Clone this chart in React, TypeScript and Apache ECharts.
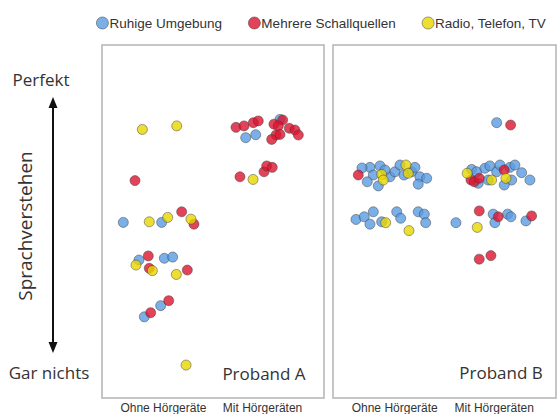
import React, { useEffect, useRef } from "react";
import * as echarts from "echarts";

// Category ticks (x = 0 "Ohne", x = 1 "Mit"), jittered x positions
const xTickValues = [0, 1];
const xTickLabels = ["Ohne Hörgeräte", "Mit Hörgeräten"];
const seriesNames = ["Ruhige Umgebung", "Mehrere Schallquellen", "Radio, Telefon, TV"];
const panelLabels = ["Proband A", "Proband B"];

// Proband A: [x (jittered group), Sprachverstehen 0 = gar nichts .. 100 = perfekt]
const probandA_ruhig = [
  [-0.405, 49.7], [-0.018, 49.7], [-0.247, 36.9], [0.009, 37.5], [0.093, 37.9],
  [-0.028, 21.4], [-0.193, 17.6], [0.83, 78.5], [0.931, 79.5], [1.176, 84.7],
];
const probandA_mehrere = [
  [-0.287, 63.9], [0.184, 53.3], [0.308, 49.1], [-0.153, 38.3], [-0.143, 34.1],
  [0.241, 33.5], [0.053, 23.1], [-0.129, 19.0],
  [0.732, 82.0], [0.813, 82.5], [0.907, 83.6], [0.957, 84.2], [1.115, 83.1],
  [1.203, 84.5], [1.159, 82.5], [1.27, 81.7], [1.327, 81.1], [1.361, 79.4],
  [1.136, 79.4], [1.092, 77.9], [1.176, 79.6],
  [0.772, 65.2], [1.015, 66.9], [1.042, 68.9], [1.098, 68.4],
];
const probandA_radio = [
  [-0.213, 81.3], [0.134, 82.5], [-0.143, 49.9], [0.043, 51.4], [0.278, 50.8],
  [-0.277, 35.2], [-0.112, 33.3], [0.13, 32.0], [0.228, 1.2], [0.904, 64.3],
];

// Proband B
const probandB_ruhig = [
  [-0.249, 68.4], [-0.148, 68.9], [-0.215, 65.8], [-0.276, 63.5], [-0.165, 62.1],
  [-0.048, 65.2], [0.002, 66.9], [0.053, 69.2], [0.17, 66.9], [0.203, 68.4],
  [0.253, 65.2], [0.236, 62.7], [0.321, 64.7], [-0.098, 67.5], [-0.329, 68.2],
  [0.093, 65.8],
  [-0.389, 50.7], [-0.306, 51.6], [-0.215, 53.3], [-0.249, 49.1], [-0.131, 49.9],
  [0.02, 53.3], [0.06, 51.1], [0.236, 53.3], [0.297, 52.5], [0.311, 49.6],
  [1.024, 83.6],
  [0.773, 67.7], [0.823, 66.9], [0.906, 68.1], [0.956, 68.9], [1.024, 66.9],
  [1.057, 69.2], [1.157, 68.4], [1.207, 69.2], [1.275, 66.6], [1.358, 64.1],
  [1.174, 64.1], [1.1, 62.4], [0.839, 63.0], [0.939, 64.1],
  [0.615, 49.6], [0.989, 52.5], [1.006, 49.6], [1.134, 52.5], [1.167, 51.6],
  [1.318, 50.2],
];
const probandB_mehrere = [
  [-0.366, 65.8],
  [1.164, 82.8], [0.766, 64.1], [0.799, 63.5], [0.849, 64.7], [1.1, 67.5],
  [0.849, 53.6], [1.04, 51.6], [1.375, 51.9], [0.849, 37.2], [0.966, 38.4],
];
const probandB_radio = [
  [-0.131, 66.0], [-0.115, 64.1], [0.113, 69.2], [0.136, 66.4],
  [-0.091, 49.6], [0.143, 46.9],
  [0.728, 66.4], [0.973, 64.1], [1.117, 64.7], [0.829, 48.0],
];

const colors = ["#5a9be2", "#dc1430", "#e8d600"];

export default function App() {
  const ref = useRef<HTMLDivElement>(null);
  useEffect(() => {
    if (!ref.current) return;
    const chart = echarts.init(ref.current, null, { renderer: "svg" });
    const mk = (name: string, data: number[][], idx: number, ci: number) => ({
      name,
      type: "scatter",
      xAxisIndex: idx,
      yAxisIndex: idx,
      data,
      symbol: "circle",
      symbolSize: 10,
      itemStyle: {
        color: colors[ci],
        borderColor: "rgba(55,55,55,0.75)",
        borderWidth: 0.8,
      },
    });
    const xAxisBase = (idx: number) => ({
      type: "value",
      gridIndex: idx,
      min: -0.62,
      max: 1.62,
      axisLine: { show: false },
      axisTick: { show: false },
      splitLine: { show: false },
      axisLabel: {
        customValues: xTickValues,
        formatter: (v: number) => xTickLabels[Math.round(v)] ?? "",
        fontFamily: "Liberation Sans, Arial, sans-serif",
        fontSize: 12,
        color: "#333",
        margin: 4,
        showMinLabel: true,
        showMaxLabel: true,
      },
    });
    const yAxisBase = (idx: number) => ({
      type: "value",
      gridIndex: idx,
      min: -10,
      max: 110,
      show: false,
    });
    const textStyle = (t: string, x: number, y: number, size: number, extra: any = {}) => ({
      type: "text",
      x,
      y,
      style: {
        text: t,
        fontFamily: "Open Sans, Noto Sans, sans-serif",
        fontSize: size,
        fill: "#333",
        textAlign: "center",
        textVerticalAlign: "middle",
      },
      ...extra,
    });
    chart.setOption({
      animation: false,
      backgroundColor: "#fff",
      legend: {
        top: 16,
        left: 96,
        padding: 0,
        itemWidth: 12,
        itemHeight: 12,
        itemGap: 26,
        icon: "circle",
        data: seriesNames,
        textStyle: {
          fontFamily: "Liberation Sans, Arial, sans-serif",
          fontSize: 13.5,
          color: "#333",
          padding: [0, 0, 0, -4],
        },
        itemStyle: { borderColor: "rgba(55,55,55,0.75)", borderWidth: 0.8 },
      },
      grid: [
        { left: 102, top: 45, width: 222, height: 353, show: true, borderColor: "#b4b4b4", borderWidth: 1.5, backgroundColor: "transparent" },
        { left: 333, top: 45, width: 223, height: 353, show: true, borderColor: "#b4b4b4", borderWidth: 1.5, backgroundColor: "transparent" },
      ],
      xAxis: [xAxisBase(0), xAxisBase(1)],
      yAxis: [yAxisBase(0), yAxisBase(1)],
      series: [
        mk(seriesNames[0], probandA_ruhig, 0, 0),
        mk(seriesNames[1], probandA_mehrere, 0, 1),
        mk(seriesNames[2], probandA_radio, 0, 2),
        mk(seriesNames[0], probandB_ruhig, 1, 0),
        mk(seriesNames[1], probandB_mehrere, 1, 1),
        mk(seriesNames[2], probandB_radio, 1, 2),
      ],
      graphic: [
        textStyle("Perfekt", 41, 79, 17),
        textStyle("Gar nichts", 49, 372, 17),
        textStyle("Sprachverstehen", 25, 226, 19, { rotation: Math.PI / 2 }),
        textStyle(panelLabels[0], 264, 373, 17),
        textStyle(panelLabels[1], 501, 372, 17),
        {
          type: "line",
          shape: { x1: 53, y1: 104, x2: 53, y2: 346 },
          style: { stroke: "#111", lineWidth: 2 },
        },
        {
          type: "polygon",
          shape: { points: [[53, 97], [48.5, 108], [57.5, 108]] },
          style: { fill: "#111" },
        },
        {
          type: "polygon",
          shape: { points: [[53, 353], [48.5, 342], [57.5, 342]] },
          style: { fill: "#111" },
        },
      ],
    });
    return () => chart.dispose();
  }, []);
  return (
    <div
      ref={ref}
      style={{ position: "fixed", left: 0, top: 0, width: 558, height: 414 }}
    />
  );
}
